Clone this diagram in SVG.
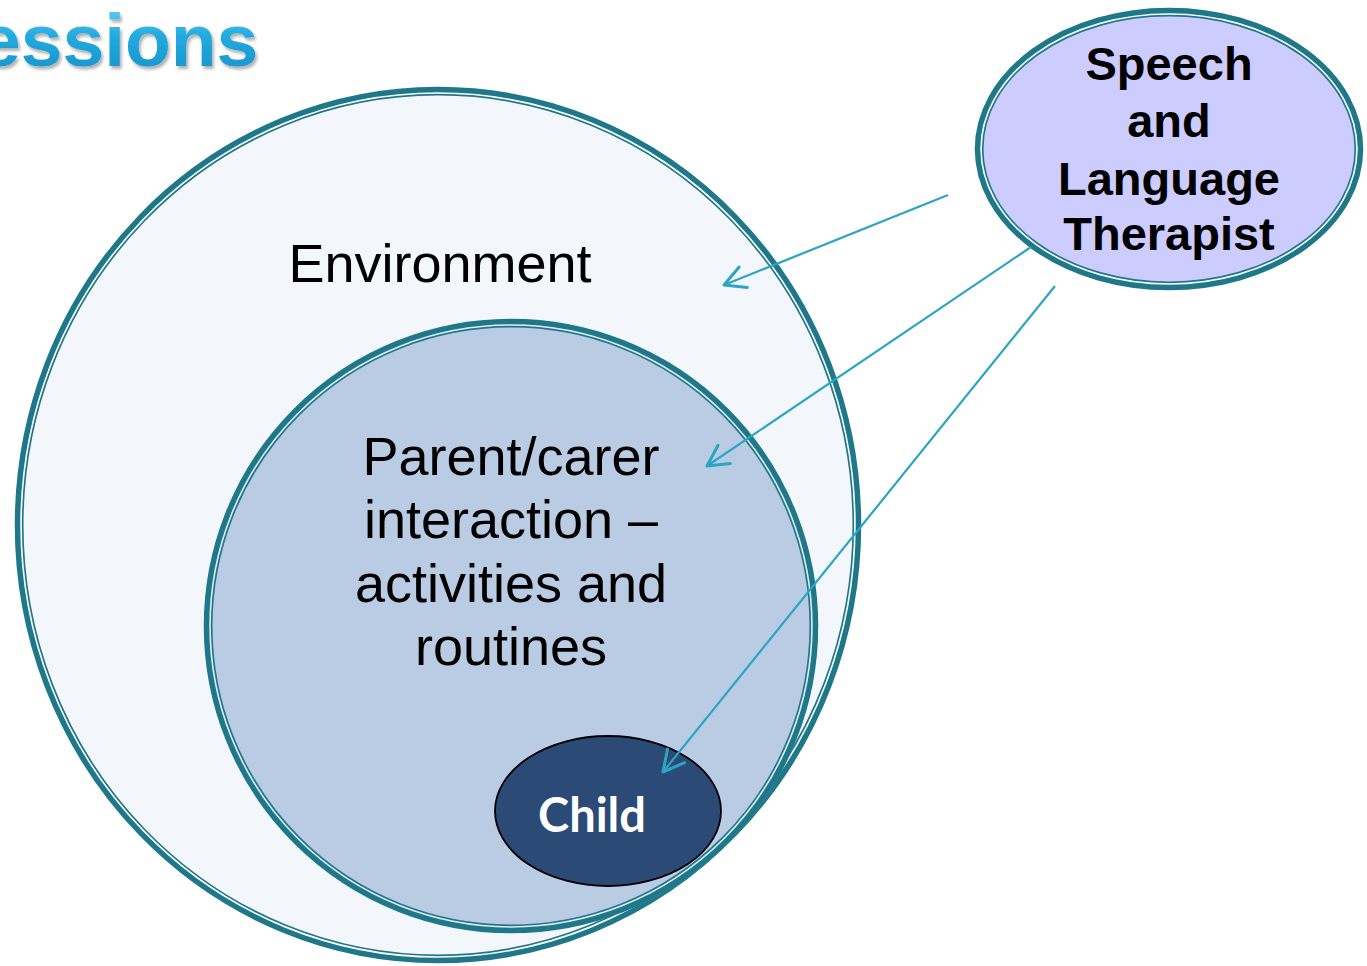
<svg xmlns="http://www.w3.org/2000/svg" width="1367" height="966" viewBox="0 0 1367 966">
<defs>
<style>
.thick{fill:none;stroke:#1F788A;stroke-width:5.5}
.thin{fill:none;stroke:#1F788A;stroke-width:1.7}
.conn{fill:none;stroke:#2BA5C2;stroke-width:2.2}
.lbl{font-family:"Liberation Sans",Arial,sans-serif;fill:#000;text-anchor:middle}
</style>
<linearGradient id="tg" x1="0" y1="0" x2="0" y2="1">
<stop offset="0" stop-color="#7AD6F4"/>
<stop offset="0.45" stop-color="#22AADF"/>
<stop offset="1" stop-color="#1690C9"/>
</linearGradient>
<filter id="sh" x="-10%" y="-20%" width="120%" height="150%">
<feDropShadow dx="2" dy="3" stdDeviation="1.5" flood-color="#000" flood-opacity="0.3"/>
</filter>
<marker id="arr" markerUnits="userSpaceOnUse" orient="auto" refX="0" refY="0" markerWidth="30" markerHeight="30" viewBox="-22 -12 26 24" overflow="visible">
<path d="M-18,-9.5 L0,0 L-18,9.5" fill="none" stroke="#2BA5C2" stroke-width="2.6" stroke-linecap="round" stroke-linejoin="round"/>
</marker>
</defs>
<rect width="1367" height="966" fill="#fff"/>
<text x="-21" y="66" font-family="Liberation Sans,Arial,sans-serif" font-weight="bold" font-size="75" fill="url(#tg)" filter="url(#sh)">essions</text>
<g id="environment">
<ellipse cx="438" cy="525" rx="419" ry="434" fill="#F3F7FC" stroke="#fff" stroke-width="8"/>
<ellipse class="thick" cx="438" cy="525" rx="420.5" ry="435.5"/>
<ellipse class="thin" cx="438" cy="525" rx="415.3" ry="430.3"/>
<text class="lbl" x="440" y="282" font-size="54">Environment</text>
</g>
<g id="parent">
<ellipse cx="511" cy="626" rx="303" ry="303" fill="#B9CCE4" stroke="#E4ECF6" stroke-width="8"/>
<ellipse class="thick" cx="511" cy="626" rx="304.5" ry="304.5"/>
<ellipse class="thin" cx="511" cy="626" rx="299.3" ry="299.3"/>
<text class="lbl" font-size="54"><tspan x="511" y="475">Parent/carer</tspan><tspan x="511" y="538">interaction –</tspan><tspan x="511" y="602">activities and</tspan><tspan x="511" y="665">routines</tspan></text>
</g>
<g id="child">
<ellipse cx="608" cy="811" rx="113" ry="75" fill="#2B4A75" stroke="#000" stroke-width="1.8"/>
<text x="592" y="832" font-family="Lato,'Open Sans',sans-serif" font-weight="bold" font-size="47" fill="#fff" text-anchor="middle">Child</text>
</g>
<g id="slt">
<ellipse cx="1169" cy="149" rx="190" ry="137" fill="#CCCCFF" stroke="#fff" stroke-width="8"/>
<ellipse class="thick" cx="1169" cy="149" rx="191.5" ry="138.5"/>
<ellipse class="thin" cx="1169" cy="149" rx="186.3" ry="133.3"/>
<text class="lbl" font-size="47" font-weight="bold"><tspan x="1169" y="80">Speech</tspan><tspan x="1169" y="137">and</tspan><tspan x="1169" y="195">Language</tspan><tspan x="1169" y="250">Therapist</tspan></text>
</g>
<g id="connectors">
<line class="conn" x1="948" y1="195" x2="724" y2="285" marker-end="url(#arr)"/>
<line class="conn" x1="1031" y1="247" x2="707" y2="466" marker-end="url(#arr)"/>
<line class="conn" x1="1055" y1="286" x2="663" y2="772" marker-end="url(#arr)"/>
</g>
</svg>
